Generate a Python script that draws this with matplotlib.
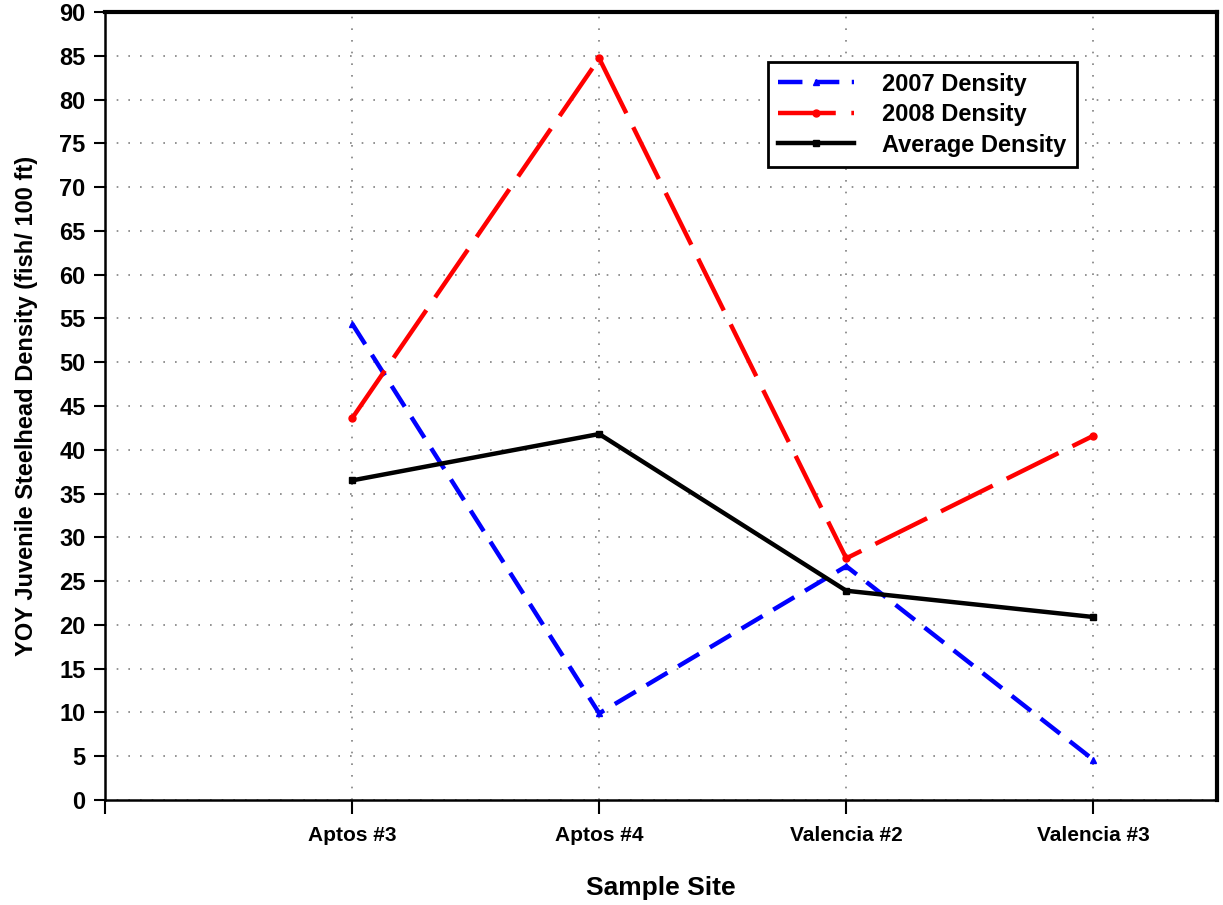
import matplotlib
matplotlib.use('Agg')
import matplotlib.pyplot as plt

plt.rcParams['font.family'] = ['Liberation Sans', 'DejaVu Sans']
plt.rcParams['font.weight'] = 'bold'

sites = ['Aptos #3', 'Aptos #4', 'Valencia #2', 'Valencia #3']
density_2007 = [54.4, 9.9, 26.7, 4.6]
density_2008 = [43.6, 84.7, 27.6, 41.6]
density_avg = [36.5, 41.8, 23.9, 20.9]
y_ticks = list(range(0, 95, 5))

fig = plt.figure(figsize=(12.23, 9.05), dpi=100)
ax = fig.add_axes([0.0859, 0.116, 0.9091, 0.8708])

x = list(range(1, len(sites) + 1))
ax.plot(x, density_2007, color='blue', lw=3.2, dashes=(5.5, 2.8),
        marker='^', markersize=5, label='2007 Density')
ax.plot(x, density_2008, color='red', lw=3.2, dashes=(13, 3.5),
        marker='o', markersize=5, label='2008 Density')
ax.plot(x, density_avg, color='black', lw=3.2,
        marker='s', markersize=5, label='Average Density')

ax.set_xlim(0, 4.5)
ax.set_ylim(0, 90)
ax.set_yticks(y_ticks)
ax.set_xticks([0] + x)
ax.set_xticklabels([''] + sites, fontsize=15, fontweight='bold')
ax.tick_params(axis='y', labelsize=17, length=8, width=1.5, direction='out', pad=6)
ax.tick_params(axis='x', length=10, width=1.5, direction='out', pad=9)

ax.grid(True, color='gray', linestyle=(0, (1, 6)), lw=1.2)
ax.set_axisbelow(True)

for side in ['left', 'bottom']:
    ax.spines[side].set_linewidth(1.8)
for side in ['top', 'right']:
    ax.spines[side].set_linewidth(3)

ax.set_xlabel('Sample Site', fontsize=19, fontweight='bold', labelpad=22)
ax.set_ylabel('YOY Juvenile Steelhead Density (fish/ 100 ft)', fontsize=17,
              fontweight='bold', labelpad=15)

leg = ax.legend(loc='upper left', bbox_to_anchor=(0.596, 0.9365), fontsize=17,
                fancybox=False, framealpha=1, edgecolor='black',
                handlelength=3.2, handletextpad=1.2, borderpad=0.45,
                labelspacing=0.32, borderaxespad=0)
leg.get_frame().set_linewidth(2)

fig.savefig('out.png', dpi=100)
